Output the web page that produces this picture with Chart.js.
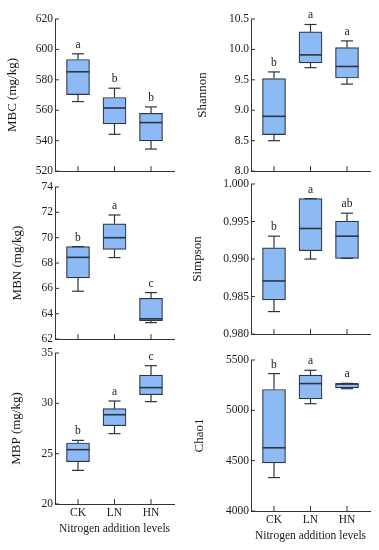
<!DOCTYPE html>
<html>
<head>
<meta charset="utf-8">
<script src="https://cdn.jsdelivr.net/npm/chart.js@4.4.0/dist/chart.umd.min.js"></script>
<style>
	body { margin: 0; background: #fff; }
	#fig { position: relative; width: 379px; height: 550px; }
	.panel { position: absolute; }
</style>
</head>
<body>
<div id="fig">
	<div class="panel" style="left:0px;top:0px;width:185px;height:180px"><canvas id="mbc"></canvas></div>
	<div class="panel" style="left:190px;top:0px;width:189px;height:180px"><canvas id="shannon"></canvas></div>
	<div class="panel" style="left:0px;top:175px;width:185px;height:173px"><canvas id="mbn"></canvas></div>
	<div class="panel" style="left:190px;top:172px;width:189px;height:171px"><canvas id="simpson"></canvas></div>
	<div class="panel" style="left:0px;top:341px;width:185px;height:198px"><canvas id="mbp"></canvas></div>
	<div class="panel" style="left:190px;top:348px;width:189px;height:198px"><canvas id="chao1"></canvas></div>
</div>
<script>
const groups = ['CK', 'LN', 'HN'];

const mbcMin = [565.7, 544.2, 534.5];
const mbcQ1 = [570.3, 551.0, 539.8];
const mbcMedian = [585.3, 561.5, 551.9];
const mbcQ3 = [593.4, 568.4, 558.0];
const mbcMax = [597.1, 574.5, 562.2];
const mbcLetters = ['a', 'b', 'b'];

const shannonMin = [8.5, 9.7, 9.43];
const shannonQ1 = [8.6, 9.78, 9.53];
const shannonMedian = [8.9, 9.91, 9.72];
const shannonQ3 = [9.52, 10.29, 10.03];
const shannonMax = [9.63, 10.41, 10.14];
const shannonLetters = ['b', 'a', 'a'];

const mbnMin = [65.78, 68.43, 63.3];
const mbnQ1 = [66.83, 69.08, 63.45];
const mbnMedian = [68.45, 70.0, 63.6];
const mbnQ3 = [69.3, 71.1, 65.22];
const mbnMax = [69.3, 71.79, 65.67];
const mbnLetters = ['b', 'a', 'c'];

const simpsonMin = [0.983, 0.99, 0.9901];
const simpsonQ1 = [0.98456, 0.99111, 0.9901];
const simpsonMedian = [0.98708, 0.99407, 0.99305];
const simpsonQ3 = [0.9915, 0.99805, 0.99504];
const simpsonMax = [0.99305, 0.99805, 0.99611];
const simpsonLetters = ['b', 'a', 'ab'];

const mbpMin = [23.34, 26.99, 30.17];
const mbpQ1 = [24.2, 27.78, 30.86];
const mbpMedian = [25.4, 28.87, 31.56];
const mbpQ3 = [26.06, 29.47, 32.81];
const mbpMax = [26.32, 30.23, 33.74];
const mbpLetters = ['b', 'a', 'c'];

const chaoMin = [4332, 5066, 5215];
const chaoQ1 = [4477, 5115, 5222];
const chaoMedian = [4628, 5266, 5262];
const chaoQ3 = [5207, 5349, 5266];
const chaoMax = [5365, 5398, 5268];
const chaoLetters = ['b', 'a', 'a'];

const fontFamily = "'Liberation Serif', 'Times New Roman', serif";
const textColor = '#1a1a1a';
const edgeColor = '#2c3540';
const fillColor = '#8dbaf5';

// whiskers, medians, letters and the inward tick marks
const boxExtras = {
	id: 'boxExtras',
	afterDatasetsDraw(chart, args, o) {
		const ctx = chart.ctx;
		const area = chart.chartArea;
		const x = chart.scales.x;
		const y = chart.scales.y;
		const line = (x1, y1, x2, y2) => {
			ctx.beginPath();
			ctx.moveTo(x1, y1);
			ctx.lineTo(x2, y2);
			ctx.stroke();
		};
		ctx.save();
		ctx.strokeStyle = edgeColor;
		ctx.lineWidth = 1.2;
		o.median.forEach((m, i) => {
			const px = x.getPixelForValue(i);
			const half = 11.5;
			const cap = 6;
			const yMax = y.getPixelForValue(o.max[i]);
			const yMin = y.getPixelForValue(o.min[i]);
			line(px, y.getPixelForValue(o.q3[i]), px, yMax);
			line(px - cap, yMax, px + cap, yMax);
			line(px, y.getPixelForValue(o.q1[i]), px, yMin);
			line(px - cap, yMin, px + cap, yMin);
			ctx.lineWidth = 1.6;
			const ym = y.getPixelForValue(m);
			line(px - half, ym, px + half, ym);
			ctx.lineWidth = 1.2;
			ctx.fillStyle = textColor;
			ctx.font = '11.5px ' + fontFamily;
			ctx.textAlign = 'center';
			ctx.textBaseline = 'middle';
			ctx.fillText(o.letters[i], px, yMax - 9);
		});
		ctx.strokeStyle = '#333';
		ctx.lineWidth = 1;
		y.ticks.forEach((t) => {
			const py = y.getPixelForValue(t.value);
			line(area.left, py, area.left + 4, py);
		});
		groups.forEach((g, i) => {
			const px = x.getPixelForValue(i);
			line(px, area.bottom, px, area.bottom - 5);
		});
		ctx.restore();
	},
};

const boxChart = (id, cfg) => {
	new Chart(document.getElementById(id), {
		type: 'bar',
		data: {
			datasets: [
				{
					data: groups.map((g, i) => ({ x: i, y: [cfg.q1[i], cfg.q3[i]] })),
					backgroundColor: fillColor,
					borderColor: edgeColor,
					borderWidth: 1.2,
					borderSkipped: false,
					barThickness: 23,
				},
			],
		},
		options: {
			responsive: true,
			maintainAspectRatio: false,
			animation: false,
			layout: {
				padding: { left: 0, right: cfg.padRight, top: cfg.padTop, bottom: 0 },
			},
			plugins: {
				legend: { display: false },
				tooltip: { enabled: false },
				boxExtras: {
					min: cfg.min,
					q1: cfg.q1,
					median: cfg.median,
					q3: cfg.q3,
					max: cfg.max,
					letters: cfg.letters,
				},
			},
			scales: {
				x: {
					type: 'linear',
					min: -0.63,
					max: 2.63,
					offset: false,
					afterBuildTicks: (s) => {
						s.ticks = groups.map((g, i) => ({ value: i }));
					},
					afterFit: (s) => {
						s.height = cfg.bottomRow ? 35 : 8;
					},
					grid: { display: false, drawTicks: false },
					border: { display: true, color: '#333', width: 1 },
					ticks: {
						display: cfg.bottomRow,
						padding: 2,
						color: textColor,
						font: { family: fontFamily, size: 11.5 },
						maxRotation: 0,
						callback: (v) => groups[v],
					},
					title: {
						display: cfg.bottomRow,
						text: 'Nitrogen addition levels',
						color: textColor,
						font: { family: fontFamily, size: 11.5, lineHeight: 1.2 },
						padding: { top: 0, bottom: 3 },
					},
				},
				y: {
					min: cfg.yMin,
					max: cfg.yMax,
					afterFit: (s) => {
						s.width = cfg.axisWidth;
					},
					grid: { display: false, drawTicks: false },
					border: { display: true, color: '#333', width: 1 },
					ticks: {
						stepSize: cfg.yStep,
						padding: 2,
						color: textColor,
						font: { family: fontFamily, size: 11.5 },
						callback: (v) => v.toFixed(cfg.decimals),
					},
					title: {
						display: true,
						text: cfg.title,
						color: textColor,
						font: { family: fontFamily, size: 13, lineHeight: 1.2 },
						padding: { top: cfg.titlePad, bottom: 0 },
					},
				},
			},
		},
		plugins: [boxExtras],
	});
};

boxChart('mbc', {
	min: mbcMin, q1: mbcQ1, median: mbcMedian, q3: mbcQ3, max: mbcMax, letters: mbcLetters,
	title: 'MBC (mg/kg)', yMin: 520, yMax: 620, yStep: 20, decimals: 0,
	axisWidth: 55, titlePad: 4.7, padTop: 19, padRight: 11, bottomRow: false,
});

boxChart('shannon', {
	min: shannonMin, q1: shannonQ1, median: shannonMedian, q3: shannonQ3, max: shannonMax, letters: shannonLetters,
	title: 'Shannon', yMin: 8, yMax: 10.5, yStep: 0.5, decimals: 1,
	axisWidth: 61, titlePad: 4.7, padTop: 19, padRight: 9, bottomRow: false,
});

boxChart('mbn', {
	min: mbnMin, q1: mbnQ1, median: mbnMedian, q3: mbnQ3, max: mbnMax, letters: mbnLetters,
	title: 'MBN (mg/kg)', yMin: 62, yMax: 74, yStep: 2, decimals: 0,
	axisWidth: 55, titlePad: 9.9, padTop: 12, padRight: 11, bottomRow: false,
});

boxChart('simpson', {
	min: simpsonMin, q1: simpsonQ1, median: simpsonMedian, q3: simpsonQ3, max: simpsonMax, letters: simpsonLetters,
	title: 'Simpson', yMin: 0.98, yMax: 1.0, yStep: 0.005, decimals: 3,
	axisWidth: 61, titlePad: 0, padTop: 12, padRight: 9, bottomRow: false,
});

boxChart('mbp', {
	min: mbpMin, q1: mbpQ1, median: mbpMedian, q3: mbpQ3, max: mbpMax, letters: mbpLetters,
	title: 'MBP (mg/kg)', yMin: 20, yMax: 35, yStep: 5, decimals: 0,
	axisWidth: 55, titlePad: 8.9, padTop: 12, padRight: 11, bottomRow: true,
});

boxChart('chao1', {
	min: chaoMin, q1: chaoQ1, median: chaoMedian, q3: chaoQ3, max: chaoMax, letters: chaoLetters,
	title: 'Chao1', yMin: 4000, yMax: 5500, yStep: 500, decimals: 0,
	axisWidth: 61, titlePad: 2.2, padTop: 12, padRight: 9, bottomRow: true,
});
</script>
</body>
</html>
